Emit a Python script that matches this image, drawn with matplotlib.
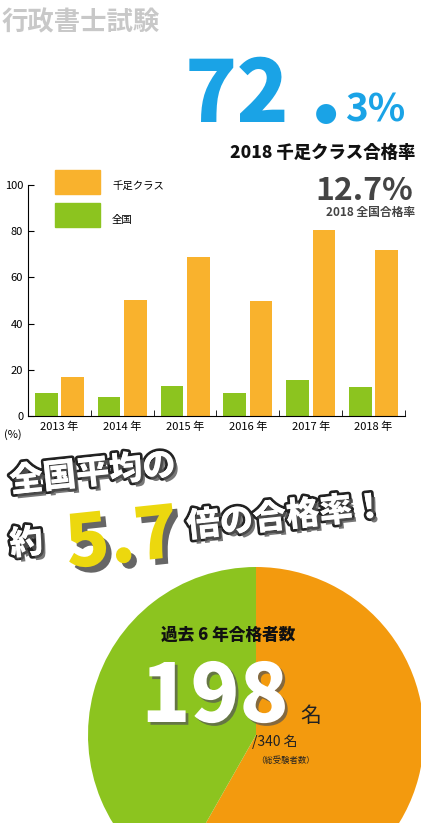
import matplotlib
matplotlib.use("Agg")
import matplotlib.pyplot as plt
import matplotlib.patheffects as pe
import numpy as np

plt.rcParams['font.family'] = ['Noto Sans CJK JP', 'DejaVu Sans']

years = ["2013 年", "2014 年", "2015 年", "2016 年", "2017 年", "2018 年"]
national = [10.0, 8.3, 13.1, 10.0, 15.7, 12.7]
senzoku = [17.0, 50.4, 68.8, 49.6, 80.5, 71.7]
passed = 198
total = 340

ORANGE = "#f9b22d"
GREEN = "#8cc41f"
PIE_OR = "#f39a0e"

fig = plt.figure(figsize=(4.21, 8.23), dpi=100)
W, H = 421, 823
def fx(x): return x / W
def fy(y): return 1 - y / H

fig.text(fx(2), fy(30), "行政書士試験", fontsize=19, fontweight='bold', color="#c8c8c8", va='baseline')
fig.text(fx(185), fy(122), "72", fontsize=62, fontweight='black', color="#1aa3e6", va='baseline')
fig.text(fx(315), fy(122), "●", fontsize=16, color="#1aa3e6", va='baseline')
fig.text(fx(345), fy(122), "3%", fontsize=28, fontweight='bold', color="#1aa3e6", va='baseline')
fig.text(fx(415), fy(158), "2018 千足クラス合格率", fontsize=12.5, fontweight='black', color="#111111", ha='right', va='baseline')
fig.text(fx(413), fy(200), "12.7%", fontsize=23, fontweight='bold', color="#444444", ha='right', va='baseline')
fig.text(fx(415), fy(216), "2018 全国合格率", fontsize=8.5, fontweight='bold', color="#444444", ha='right', va='baseline')

ax = fig.add_axes([fx(28), fy(416), fx(405) - fx(28), fy(185) - fy(416)])
x = np.arange(len(years))
w = 0.36
ax.bar(x - 0.21, national, w, color=GREEN)
ax.bar(x + 0.21, senzoku, w, color=ORANGE)
ax.set_xlim(-0.5, 5.5)
ax.set_ylim(0, 100)
ax.set_yticks([0, 20, 40, 60, 80, 100])
ax.set_xticks(x)
ax.set_xticklabels(years)
ax.set_xticks(np.arange(-0.5, 6, 1), minor=True)
ax.tick_params(axis='x', which='major', length=0, labelsize=8, pad=4)
ax.tick_params(axis='x', which='minor', length=4, direction='in')
ax.tick_params(axis='y', labelsize=8, length=4, direction='in')
for s in ['top', 'right']:
    ax.spines[s].set_visible(False)
fig.text(fx(4), fy(438), "(%)", fontsize=8)

# legend
fig.patches.append(plt.Rectangle((fx(55), fy(194)), fx(45), fy(170) - fy(194), transform=fig.transFigure, color=ORANGE))
fig.patches.append(plt.Rectangle((fx(55), fy(227)), fx(45), fy(203) - fy(227), transform=fig.transFigure, color=GREEN))
fig.text(fx(112), fy(186), "千足クラス", fontsize=7.5, va='center')
fig.text(fx(112), fy(220), "全国", fontsize=7.5, va='center')

eff = [pe.withStroke(linewidth=4, foreground='#222222'),
       pe.SimplePatchShadow(offset=(3, -3), shadow_rgbFace='#555555', alpha=0.8), pe.Normal()]
fig.text(fx(8), fy(492), "全国平均の", fontsize=24, fontweight='black', color='white', rotation=6, path_effects=eff)
fig.text(fx(8), fy(555), "約", fontsize=24, fontweight='black', color='white', rotation=6, path_effects=eff)
fig.text(fx(62), fy(568), "5.7", fontsize=52, fontweight='black', color='#ecd80e', rotation=6,
         path_effects=[pe.SimplePatchShadow(offset=(4, -4), shadow_rgbFace='#555555', alpha=0.9), pe.Normal()])
fig.text(fx(185), fy(537), "倍の合格率！", fontsize=24, fontweight='black', color='white', rotation=6, path_effects=eff)

# pie
cx, cy, r = 256, 735, 168
pax = fig.add_axes([fx(cx - r), fy(cy + r), 2 * r / W, 2 * r / H])
pax.pie([passed, total - passed], colors=[PIE_OR, GREEN], startangle=90, counterclock=False)
pax.set_aspect('equal')
pax.set_xlim(-1, 1); pax.set_ylim(-1, 1)
pax.axis('off')

fig.text(fx(228), fy(640), "過去 6 年合格者数", fontsize=12, fontweight='black', color='#111111', ha='center')
fig.text(fx(215), fy(722), str(passed), fontsize=58, fontweight='black', color='white', ha='center',
         path_effects=[pe.SimplePatchShadow(offset=(2, -2), shadow_rgbFace='#555555', alpha=0.7), pe.Normal()])
fig.text(fx(300), fy(722), "名", fontsize=15, color='#222222')
fig.text(fx(252), fy(746), f"/{total} 名", fontsize=10, color='#222222')
fig.text(fx(256), fy(763), "（総受験者数）", fontsize=6, color='#222222')

fig.savefig("out.png", dpi=100)
